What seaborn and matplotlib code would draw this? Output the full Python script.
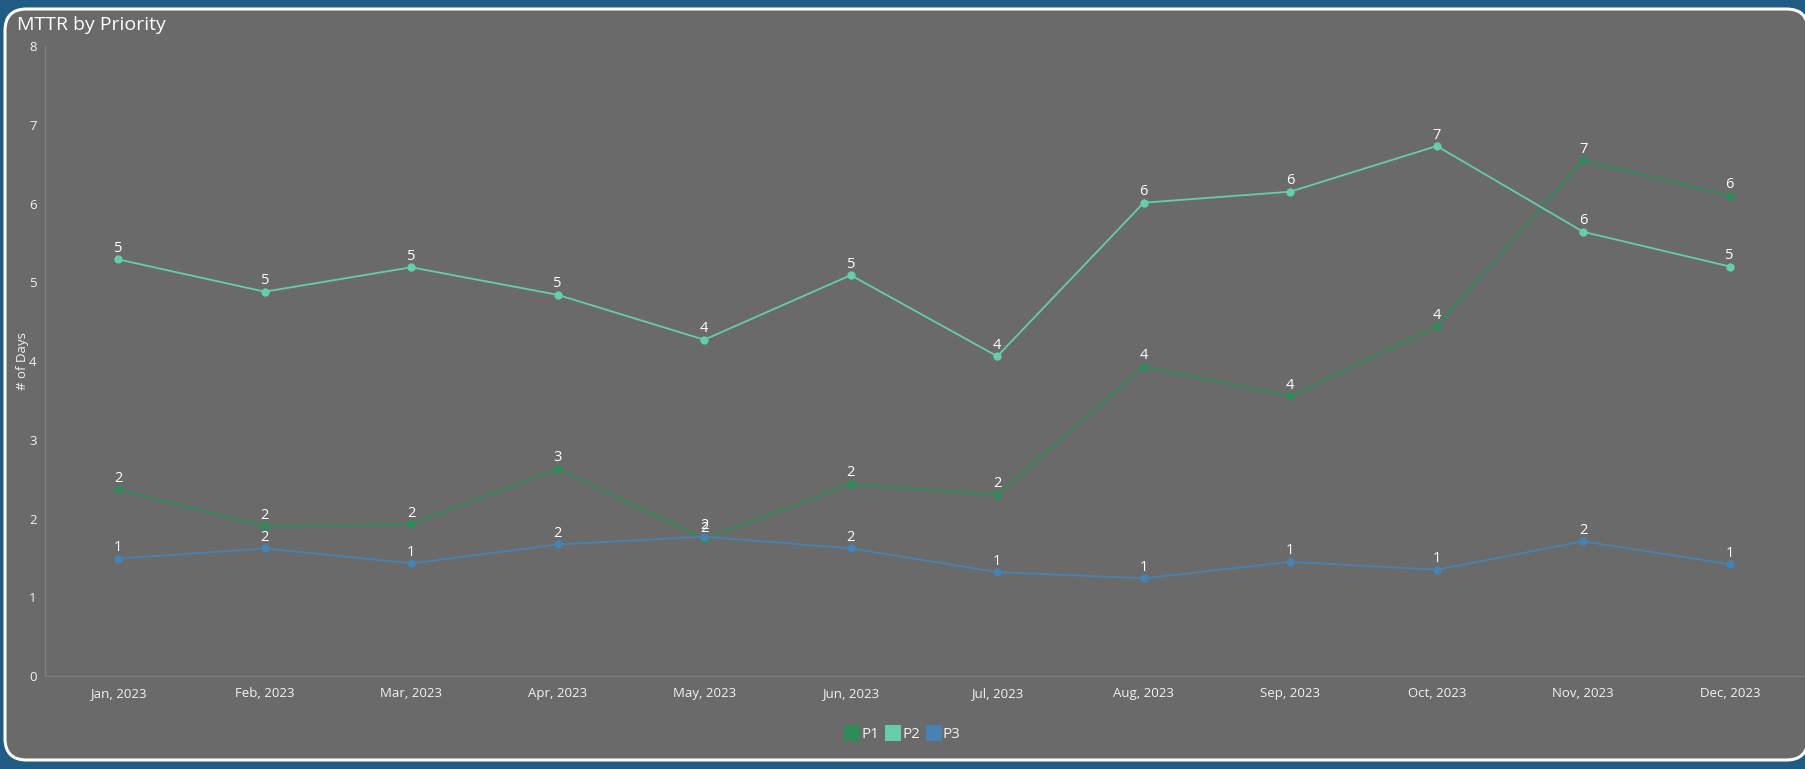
import numpy as np
import pandas as pd
import matplotlib
matplotlib.use("Agg")
import matplotlib.pyplot as plt
import seaborn as sns
from matplotlib.patches import FancyBboxPatch
from matplotlib.lines import Line2D

# Data
months = ["Jan, 2023", "Feb, 2023", "Mar, 2023", "Apr, 2023", "May, 2023", "Jun, 2023",
          "Jul, 2023", "Aug, 2023", "Sep, 2023", "Oct, 2023", "Nov, 2023", "Dec, 2023"]
p1 = [2.37, 1.90, 1.93, 2.63, 1.74, 2.44, 2.30, 3.93, 3.55, 4.44, 6.55, 6.10]
p2 = [5.29, 4.88, 5.19, 4.84, 4.27, 5.09, 4.06, 6.01, 6.15, 6.73, 5.64, 5.20]
p3 = [1.49, 1.62, 1.43, 1.67, 1.77, 1.62, 1.32, 1.24, 1.45, 1.35, 1.71, 1.42]
priorities = ["P1", "P2", "P3"]
colors = {"P1": "#2e8b57", "P2": "#66cdaa", "P3": "#4682b4"}

df = pd.DataFrame({
    "Month": months * 3,
    "Days": p1 + p2 + p3,
    "Priority": [p for p in priorities for _ in months],
})

sns.set_style("white")
plt.rcParams["font.family"] = ["Open Sans", "DejaVu Sans"]

W, H = 1805, 769
fig = plt.figure(figsize=(W / 100, H / 100), dpi=100)
fig.patch.set_facecolor("#1f5b82")

# Rounded card behind the axes (runs off the right edge like the original)
card = FancyBboxPatch((5 / W, 9 / H), 1803 / W, 751 / H,
                      boxstyle="round,pad=0,rounding_size=0.012",
                      transform=fig.transFigure, facecolor="#6a6a6a",
                      edgecolor="white", linewidth=2.2, mutation_aspect=W / H,
                      zorder=-5)
fig.add_artist(card)

left, right, top, bottom = 45, 1803, 46, 676
ax = fig.add_axes([left / W, (H - bottom) / H, (right - left) / W, (bottom - top) / H])
ax.set_facecolor("none")
ax.set_zorder(2)

sns.lineplot(data=df, x="Month", y="Days", hue="Priority", palette=colors,
             marker="o", markersize=6, markeredgewidth=0, linewidth=1.3,
             sort=False, ax=ax, legend=False)

for _, row in df.iterrows():
    ax.annotate(f"{row['Days']:.0f}", (months.index(row["Month"]), row["Days"]),
                xytext=(0, 2.5), textcoords="offset points", ha="center", va="bottom",
                color="white", fontsize=10.5)

ax.set_xlim(-0.5, len(months) - 0.5)
ax.set_ylim(0, 8)
ax.set_yticks(range(0, 9))
ax.set_xlabel("")
ax.set_ylabel("# of Days", color="#f2f2f2", fontsize=9.5)
ax.yaxis.set_label_coords(-0.009, 0.5)
ax.tick_params(axis="both", length=0, colors="#f2f2f2", labelsize=9.5)
ax.tick_params(axis="x", pad=8)
ax.tick_params(axis="y", pad=6)
for s in ["top", "right"]:
    ax.spines[s].set_visible(False)
for s in ["left", "bottom"]:
    ax.spines[s].set_color("#7e7e7e")
    ax.spines[s].set_linewidth(1)

fig.text(17 / W, 1 - 25 / H, "MTTR by Priority", color="white", fontsize=14,
         ha="left", va="center")

handles = [Line2D([], [], marker="s", linestyle="", markersize=11,
                  markerfacecolor=colors[p], markeredgewidth=0) for p in priorities]
fig.legend(handles, priorities, loc="center", bbox_to_anchor=(0.5, 1 - 735 / H),
           ncol=3, frameon=False, fontsize=11, labelcolor="#f2f2f2",
           handletextpad=0.1, columnspacing=0.4, handlelength=1.0)

fig.savefig("out.png", dpi=100, facecolor=fig.get_facecolor())
